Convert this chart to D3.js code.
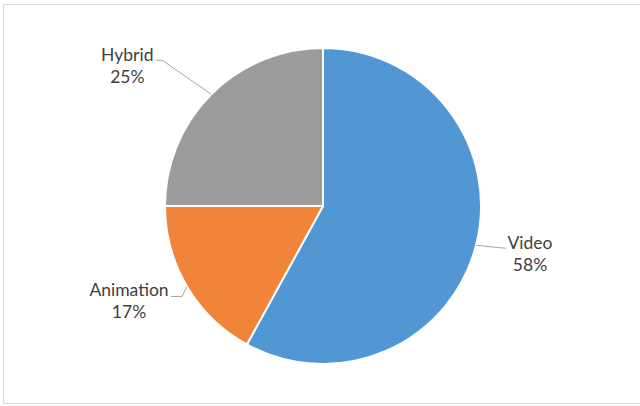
<!DOCTYPE html>
<html>
<head>
<meta charset="utf-8">
<script src="https://cdn.jsdelivr.net/npm/d3@7"></script>
<style>
  html, body { margin: 0; padding: 0; background: #fff; }
  svg { display: block; }
</style>
</head>
<body>
<svg id="chart" width="640" height="406"></svg>
<script>
// Share of titles by production type
const categories = ["Video", "Animation", "Hybrid"];
const values = [58, 17, 25];
const colors = ["#5097d3", "#f08539", "#9a9c9d"];

const W = 640, H = 406;
const cx = 323, cy = 206, R = 158;
const fontFamily = "Lato, 'Open Sans', sans-serif";
const fontSize = 17.5;
const lineGap = 22;

const svg = d3.select("#chart");

// chart area frame
svg.append("rect")
  .attr("x", 3.5).attr("y", 4.5)
  .attr("width", W).attr("height", 399)
  .attr("fill", "#fff")
  .attr("stroke", "#d9d9d9")
  .attr("stroke-width", 1);

const total = d3.sum(values);
const data = categories.map((c, i) => ({ name: c, value: values[i], color: colors[i] }));

const pie = d3.pie().value(d => d.value).sort(null).startAngle(0).endAngle(2 * Math.PI);
const arcs = pie(data);
const arc = d3.arc().innerRadius(0).outerRadius(R);

const g = svg.append("g").attr("transform", `translate(${cx},${cy})`);

g.selectAll("path.slice")
  .data(arcs)
  .join("path")
  .attr("class", "slice")
  .attr("d", arc)
  .attr("fill", d => d.data.color)
  .attr("stroke", "#fff")
  .attr("stroke-width", 2)
  .attr("stroke-linejoin", "round");

// leader-line layout per label: elbow offset from the rim point, then horizontal run, then text centre offset
const labelLayout = {
  Video:     { elbow: [30, 3],    run: 0,   text: [24, 0.5] },
  Animation: { elbow: [-5, 10],   run: -11, text: [-42, -0.5] },
  Hybrid:    { elbow: [-49, -34], run: -6,  text: [-29, 0.5] }
};

const labels = g.append("g");
arcs.forEach(a => {
  const mid = (a.startAngle + a.endAngle) / 2;
  const p = [R * Math.sin(mid), -R * Math.cos(mid)];
  const L = labelLayout[a.data.name];
  const e = [p[0] + L.elbow[0], p[1] + L.elbow[1]];
  const end = [e[0] + L.run, e[1]];
  labels.append("polyline")
    .attr("points", [p, e, end].map(q => q.join(",")).join(" "))
    .attr("fill", "none")
    .attr("stroke", "#a6a6a6")
    .attr("stroke-width", 1);

  const tx = end[0] + L.text[0];
  const ty = end[1] + L.text[1];
  const t = labels.append("text")
    .attr("x", tx).attr("y", ty)
    .attr("text-anchor", "middle")
    .attr("font-family", fontFamily)
    .attr("font-size", fontSize)
    .attr("fill", "#404040");
  t.append("tspan").attr("x", tx).attr("dy", 0).text(a.data.name);
  t.append("tspan").attr("x", tx).attr("dy", lineGap)
    .text(d3.format(".0%")(a.data.value / total));
});
</script>
</body>
</html>
